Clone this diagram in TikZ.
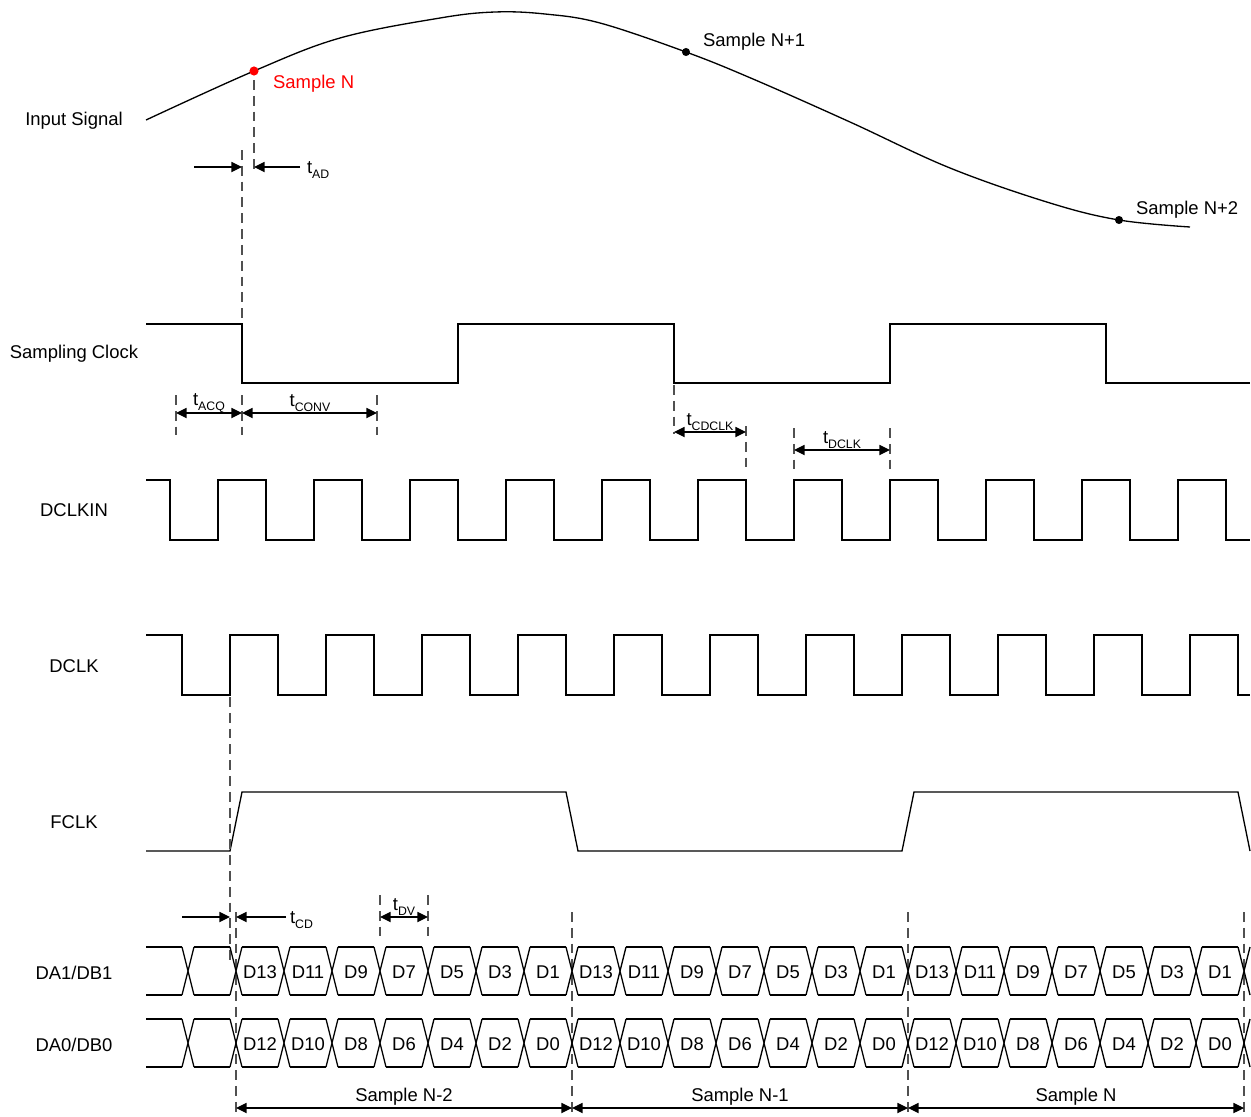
\documentclass[tikz,border=0pt]{standalone}
\usepackage{fontspec}
\setmainfont{Liberation Sans}
\usetikzlibrary{arrows.meta}

\begin{document}
\begin{tikzpicture}[x=0.02cm, y=-0.02cm,
    every node/.style={font=\fontsize{10.5}{12}\selectfont, inner sep=1pt},
    wave/.style={line width=0.75pt},
    guide/.style={draw=guidegray, line width=0.85pt, dash pattern=on 5.6pt off 3.4pt},
    dimto/.style={line width=0.65pt, -{Triangle[length=6pt,width=5.8pt]}},
    dimboth/.style={line width=0.65pt, {Triangle[length=6pt,width=5.8pt]}-{Triangle[length=6pt,width=5.8pt]}}]
    \definecolor{guidegray}{RGB}{80,80,80}
    \definecolor{samplered}{RGB}{255,0,0}

    \newcommand{\tsub}[1]{t\raisebox{-0.45ex}{\fontsize{7}{8}\selectfont #1}}

    \useasboundingbox (0,0) rectangle (1251,1116);

    % Signal names on the left.
    \node (lin) at (74,121) {Input Signal};
    \node (lsclk) at (74,354) {Sampling Clock};
    \node (ldclkin) at (74,510) {DCLKIN};
    \node (ldclk) at (74,666) {DCLK};
    \node (lfclk) at (74,822) {FCLK};
    \node (lda1) at (74,973) {DA1/DB1};
    \node (lda0) at (74,1045) {DA0/DB0};

    % Input signal and its samples.
    \draw[wave] plot[smooth, tension=0.6] coordinates {(146,120) (254,71) (340,38)
        (440,18) (495,12) (545,14) (600,23) (686,52) (753,79) (850,122)
        (950,168) (1050,203) (1119,220) (1190,227)};
    \coordinate (sN) at (254,71);
    \coordinate (sN1) at (686,52);
    \coordinate (sN2) at (1119,220);
    \fill[samplered] (sN) circle[radius=2.6pt];
    \fill (sN1) circle[radius=2.3pt];
    \fill (sN2) circle[radius=2.3pt];
    \node[anchor=west, text=samplered] (lsN) at (271,84) {Sample N};
    \node[anchor=west] (lsN1) at (701,42) {Sample N+1};
    \node[anchor=west] (lsN2) at (1134,210) {Sample N+2};

    % Aperture delay.
    \coordinate (adtop) at (254,80);
    \coordinate (adbot) at (254,174);
    \coordinate (actop) at (242,150);
    \coordinate (acbot) at (242,324);
    \draw[guide] (adtop) -- (adbot);
    \draw[guide] (actop) -- (acbot);
    \coordinate (adin) at (194,167);
    \coordinate (adtip) at (242,167);
    \coordinate (adout) at (300,167);
    \coordinate (adtip2) at (254,167);
    \draw[dimto] (adin) -- (adtip);
    \draw[dimto] (adout) -- (adtip2);
    \node[anchor=west] (tad) at (305,170) {\tsub{AD}};

    % Sampling clock.
    \draw[wave] (146,324) -- (242,324) -- (242,383) -- (458,383) -- (458,324)
        -- (674,324) -- (674,383) -- (890,383) -- (890,324) -- (1106,324)
        -- (1106,383) -- (1250,383);

    % Acquisition and conversion times.
    \foreach \x in {176,242,377} \draw[guide] (\x,395) -- (\x,435);
    \coordinate (acqa) at (176,413);
    \coordinate (acqb) at (242,413);
    \coordinate (convb) at (377,413);
    \draw[dimboth] (acqa) -- (acqb);
    \draw[dimboth] (acqb) -- (convb);
    \node (tacq) at (209,403) {\tsub{ACQ}};
    \node (tconv) at (310,403) {\tsub{CONV}};

    % Clock delay and DCLK period.
    \draw[guide] (674,385) -- (674,434);
    \draw[guide] (746,426) -- (746,472);
    \draw[guide] (794,428) -- (794,472);
    \draw[guide] (890,428) -- (890,472);
    \coordinate (cda) at (674,432);
    \coordinate (cdb) at (746,432);
    \coordinate (pda) at (794,450);
    \coordinate (pdb) at (890,450);
    \draw[dimboth] (cda) -- (cdb);
    \draw[dimboth] (pda) -- (pdb);
    \node (tcdclk) at (710,422) {\tsub{CDCLK}};
    \node (tdclk) at (842,440) {\tsub{DCLK}};

    % DCLKIN.
    \draw[wave] (146,480) foreach \x in {170,266,...,1130} {
        -- (\x,480) -- (\x,540) -- (\x+48,540) -- (\x+48,480) }
        -- (1226,480) -- (1226,540) -- (1250,540);

    % DCLK.
    \draw[wave] (146,635) foreach \x in {182,278,...,1142} {
        -- (\x,635) -- (\x,695) -- (\x+48,695) -- (\x+48,635) }
        -- (1238,635) -- (1238,695) -- (1250,695);

    % FCLK.
    \draw[wave] (146,851) -- (230,851) -- (242,792) -- (566,792) -- (578,851)
        -- (902,851) -- (914,792) -- (1238,792) -- (1250,851);

    % Clock-to-data delay and data valid window.
    \draw[guide] (230,697) -- (230,960);
    \foreach \x in {236,572,908,1244} \draw[guide] (\x,912) -- (\x,1112);
    \draw[guide] (380,895) -- (380,940);
    \draw[guide] (428,895) -- (428,940);
    \coordinate (cdin) at (182,917);
    \coordinate (cdtip) at (230,917);
    \coordinate (cdout) at (286,917);
    \coordinate (cdtip2) at (236,917);
    \draw[dimto] (cdin) -- (cdtip);
    \draw[dimto] (cdout) -- (cdtip2);
    \node[anchor=west] (tcd) at (288,920) {\tsub{CD}};
    \coordinate (dva) at (380,917);
    \coordinate (dvb) at (428,917);
    \draw[dimboth] (dva) -- (dvb);
    \node (tdv) at (404,907) {\tsub{DV}};

    % Data buses.
    \foreach \top/\bot in {947/995,1019/1067} {
        \draw[wave] (146,\top) -- (182,\top) (146,\bot) -- (182,\bot);
        \foreach \c in {188,236,...,1244}
            \draw[wave] (\c-6,\top) -- (\c+6,\bot) (\c-6,\bot) -- (\c+6,\top);
        \foreach \c in {194,242,...,1202}
            \draw[wave] (\c,\top) -- (\c+36,\top) (\c,\bot) -- (\c+36,\bot);
    }
    \foreach \k in {0,1,2} {
        \foreach \lab [count=\i] in {D13,D11,D9,D7,D5,D3,D1}
            \node (hi-\k-\i) at ({260+336*\k+48*(\i-1)},972) {\lab};
        \foreach \lab [count=\i] in {D12,D10,D8,D6,D4,D2,D0}
            \node (lo-\k-\i) at ({260+336*\k+48*(\i-1)},1044) {\lab};
    }

    % Sample frames.
    \coordinate (fa) at (236,1108);
    \coordinate (fb) at (572,1108);
    \coordinate (fc) at (908,1108);
    \coordinate (fd) at (1244,1108);
    \draw[dimboth] (fa) -- (fb);
    \draw[dimboth] (fb) -- (fc);
    \draw[dimboth] (fc) -- (fd);
    \node (fsn2) at (404,1097) {Sample N-2};
    \node (fsn1) at (740,1097) {Sample N-1};
    \node (fsn) at (1076,1097) {Sample N};
\end{tikzpicture}
\end{document}
